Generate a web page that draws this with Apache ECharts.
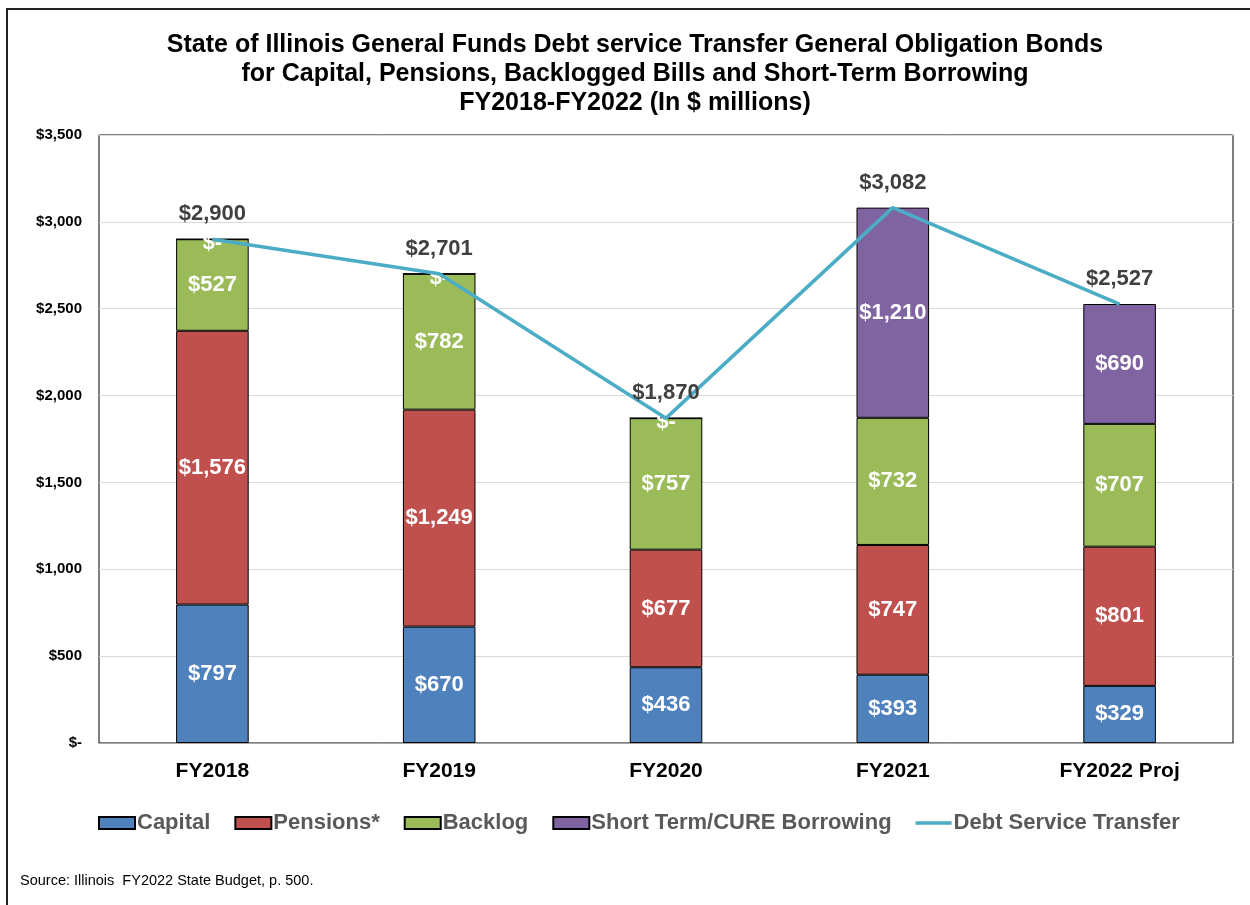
<!DOCTYPE html>
<html lang="en">
<head>
<meta charset="UTF-8">
<title>Illinois Debt Service Transfer</title>
<script src="https://cdn.jsdelivr.net/npm/echarts@6/dist/echarts.min.js"></script>
<style>
  html, body { margin: 0; padding: 0; background: #fff; }
  #main { width: 1250px; height: 905px; }
</style>
</head>
<body>
<div id="main"></div>
<script>
// data ($ millions)
var years = ['FY2018', 'FY2019', 'FY2020', 'FY2021', 'FY2022 Proj'];
var capital = [797, 670, 436, 393, 329];
var pensions = [1576, 1249, 677, 747, 801];
var backlog = [527, 782, 757, 732, 707];
var shortTerm = [0, 0, 0, 1210, 690];
var debtService = [2900, 2701, 1870, 3082, 2527];

var FONT = 'Arial, Liberation Sans';

function money(v) {
    if (v === 0) return '$-';
    return '$' + v.toLocaleString('en-US');
}

var chart = echarts.init(document.getElementById('main'));

var barLabel = {
    show: true,
    position: 'inside',
    color: '#fff',
    fontFamily: FONT,
    fontWeight: 'bold',
    fontSize: 22,
    formatter: function (p) { return money(p.value); }
};

function barSeries(name, data, color) {
    return {
        name: name,
        type: 'bar',
        stack: 'total',
        // zero values get their "$-" label nudged down a little, as in Excel
        data: data.map(function (v) {
            return v === 0 ? { value: v, label: { offset: [0, 4] } } : v;
        }),
        barWidth: '32%',
        itemStyle: { color: color, borderColor: '#000', borderWidth: 1 },
        label: barLabel
    };
}

var option = {
    animation: false,
    backgroundColor: '#fff',
    title: {
        text: 'State of Illinois General Funds Debt service Transfer General Obligation Bonds\nfor Capital, Pensions, Backlogged Bills and Short-Term Borrowing\nFY2018-FY2022 (In $ millions)',
        left: 630,
        textAlign: 'center',
        top: 26,
        textStyle: {
            fontFamily: FONT,
            fontSize: 25,
            fontWeight: 'bold',
            color: '#000',
            lineHeight: 29
        }
    },
    graphic: [
        {
            type: 'polyline',
            shape: { points: [[7, 905], [7, 9], [1250, 9]] },
            style: { stroke: '#222', lineWidth: 2, fill: null }
        },
        {
            type: 'text',
            left: 20,
            top: 873,
            style: {
                text: 'Source: Illinois  FY2022 State Budget, p. 500.',
                font: '14.5px Arial, "Liberation Sans"',
                fill: '#000'
            }
        }
    ],
    legend: {
        top: 807,
        left: 93,
        itemWidth: 36,
        itemHeight: 12,
        itemGap: 24,
        textStyle: {
            fontFamily: FONT,
            fontSize: 22,
            fontWeight: 'bold',
            color: '#595959',
            padding: [0, 0, 0, -3]
        },
        data: [
            { name: 'Capital', icon: 'rect' },
            { name: 'Pensions*', icon: 'rect' },
            { name: 'Backlog', icon: 'rect' },
            { name: 'Short Term/CURE Borrowing', icon: 'rect' },
            { name: 'Debt Service Transfer', icon: 'path://M0,0 L40,0 L40,4 L0,4 Z' }
        ]
    },
    grid: {
        left: 99,
        right: 17,
        top: 135,
        bottom: 162,
        show: true,
        borderColor: '#000',
        borderWidth: 1
    },
    xAxis: {
        type: 'category',
        data: years,
        axisTick: { show: false },
        axisLine: { lineStyle: { color: '#a6a6a6' } },
        axisLabel: {
            margin: 18,
            color: '#000',
            fontFamily: FONT,
            fontWeight: 'bold',
            fontSize: 21
        }
    },
    yAxis: {
        type: 'value',
        min: 0,
        max: 3500,
        interval: 500,
        axisLine: { show: false },
        axisTick: { show: false },
        splitLine: { lineStyle: { color: '#d9d9d9' } },
        axisLabel: {
            margin: 17,
            color: '#000',
            fontFamily: FONT,
            fontWeight: 'bold',
            fontSize: 15,
            formatter: money
        }
    },
    series: [
        barSeries('Capital', capital, '#4f81bd'),
        barSeries('Pensions*', pensions, '#c0504d'),
        barSeries('Backlog', backlog, '#9bbb59'),
        barSeries('Short Term/CURE Borrowing', shortTerm, '#8064a2'),
        {
            name: 'Debt Service Transfer',
            type: 'line',
            data: debtService,
            symbol: 'circle',
            symbolSize: 0,
            showSymbol: true,
            z: 3,
            lineStyle: { color: '#4bacc6', width: 3.5 },
            itemStyle: { color: '#4bacc6' },
            label: {
                show: true,
                position: 'top',
                distance: 14,
                color: '#404040',
                fontFamily: FONT,
                fontWeight: 'bold',
                fontSize: 22,
                formatter: function (p) { return money(p.value); }
            }
        }
    ]
};

chart.setOption(option);
</script>
</body>
</html>
